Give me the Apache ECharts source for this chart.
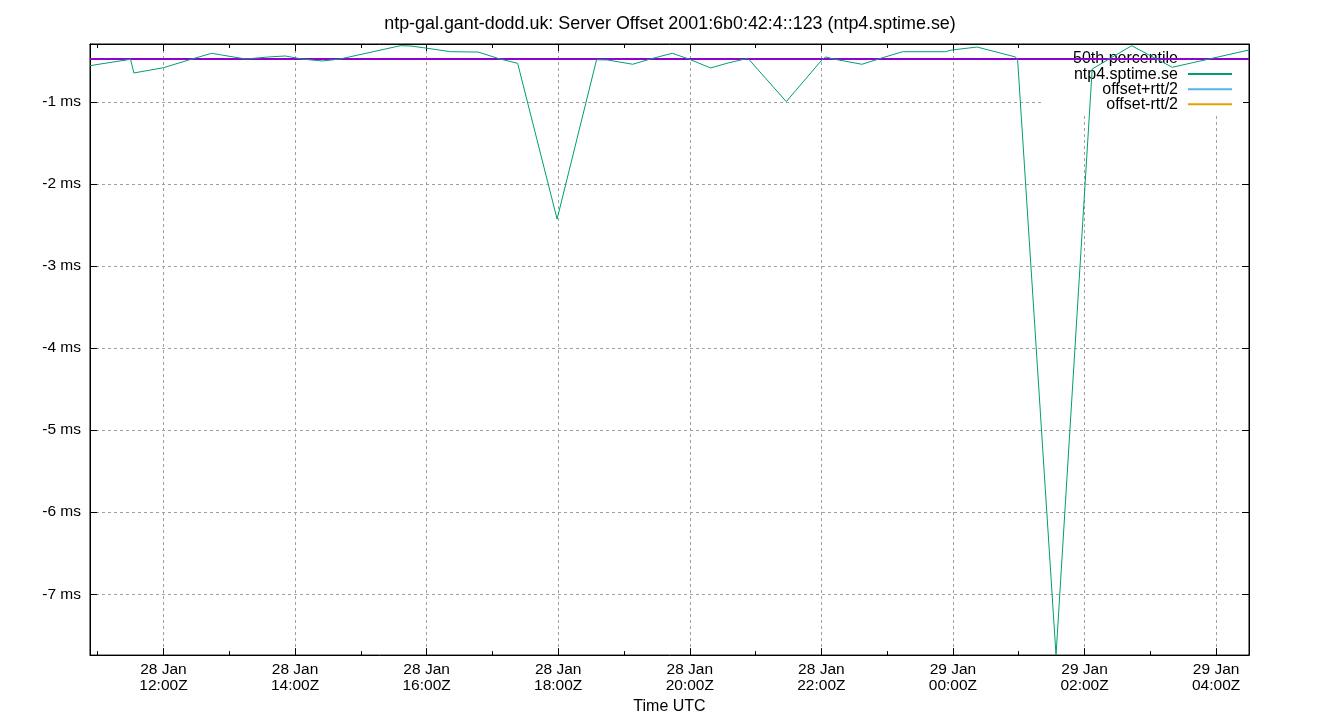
<!DOCTYPE html>
<html>
<head>
<meta charset="utf-8">
<script src="https://cdn.jsdelivr.net/npm/echarts@6/dist/echarts.min.js"></script>
<style>html,body{margin:0;padding:0;background:#fff}#c{width:1340px;height:720px}</style>
</head>
<body>
<div id="c"></div>
<script>
// Sample times (UTC, "DD HH:MM", January) and offsets in ms
const times = [
  '28 10:53','28 11:30','28 11:33','28 12:00','28 12:26','28 12:44','28 12:53','28 13:15',
  '28 13:36','28 13:51','28 14:06','28 14:25','28 14:41','28 15:36','28 15:45','28 15:57',
  '28 16:22','28 16:47','28 17:07','28 17:23','28 17:59','28 18:35','28 18:45','28 19:08',
  '28 19:24','28 19:44','28 19:59','28 20:19','28 20:35','28 20:53','28 21:28','28 22:01',
  '28 22:04','28 22:11','28 22:37','28 22:55','28 23:14','28 23:53','28 23:59','29 00:22',
  '29 00:57','29 00:59','29 01:34','29 02:07','29 02:43','29 03:20','29 04:30'
];
const offsets = [
  -0.558,-0.480,-0.647,-0.583,-0.477,-0.407,-0.428,-0.477,
  -0.452,-0.440,-0.477,-0.501,-0.477,-0.315,-0.318,-0.339,
  -0.388,-0.392,-0.477,-0.529,-2.428,-0.485,-0.489,-0.541,
  -0.477,-0.407,-0.477,-0.586,-0.525,-0.468,-0.996,-0.480,
  -0.452,-0.477,-0.541,-0.465,-0.388,-0.388,-0.367,-0.331,
  -0.452,-0.489,-7.742,-0.598,-0.315,-0.578,-0.367
];
const offsetPlusRtt = [];   // not visible in the reference
const offsetMinusRtt = [];  // not visible in the reference
const p50 = -0.477;
const seriesNames = ['50th percentile','ntp4.sptime.se','offset+rtt/2','offset-rtt/2'];
const titleText = 'ntp-gal.gant-dodd.uk: Server Offset 2001:6b0:42:4::123 (ntp4.sptime.se)';
const yMin = -7.742, yMax = -0.294;

function toH(s){
  const d = +s.slice(0,2), h = +s.slice(3,5), m = +s.slice(6,8);
  return (d-28)*24 + h + m/60;
}
const xs = times.map(toH);
const xMin = xs[0], xMax = xs[xs.length-1];
const offData = xs.map((x,i)=>[x, offsets[i]]);
const pData = [[xMin,p50],[xMax,p50]];
const pad = n => (n<10?'0':'')+n;
const FONT = 'Liberation Sans, Arial, sans-serif';

const chart = echarts.init(document.getElementById('c'), null, {renderer:'canvas'});
const tickX = {show:true, inside:true, length:7, lineStyle:{color:'#000'}};
chart.setOption({
  animation:false,
  backgroundColor:'#fff',
  textStyle:{fontFamily:FONT},
  title:{text:titleText,left:'center',top:10,textStyle:{fontSize:17.9,fontWeight:'normal',color:'#000',fontFamily:FONT}},
  grid:{left:90,right:91,top:44,bottom:64,show:true,borderColor:'#000',borderWidth:1,backgroundColor:'transparent'},
  legend:{
    orient:'vertical', right:97, top:45, align:'right', z:1,
    backgroundColor:'#fff', padding:[6,11,3,32],
    itemWidth:44, itemHeight:2, itemGap:-0.9, icon:'rect',
    textStyle:{fontSize:16,color:'#000',lineHeight:15,fontFamily:FONT, padding:[0,5,0,0]},
    data:seriesNames
  },
  xAxis:[{
    type:'value', min:xMin, max:xMax, splitNumber:9,
    name:'Time UTC', nameLocation:'middle', nameGap:43,
    nameTextStyle:{fontSize:16,color:'#000',fontFamily:FONT},
    axisLine:{show:true,lineStyle:{color:'#000'}},
    axisTick:tickX,
    minorTick:{show:true,splitNumber:2,length:4,lineStyle:{color:'#000'}},
    axisLabel:{show:true,margin:7,fontSize:15.5,color:'#000',lineHeight:16,showMinLabel:false,showMaxLabel:false,
      formatter:v=>{const r=Math.round(v); const day=28+Math.floor(r/24); const h=((r%24)+24)%24; return day+' Jan\n'+pad(h)+':00Z';}},
    splitLine:{show:true,lineStyle:{color:'#a0a0a0',type:[3,3],width:1}}
  },{
    type:'value', min:xMin, max:xMax, splitNumber:9, position:'top',
    axisLine:{show:true,lineStyle:{color:'#000'}},
    axisTick:tickX,
    minorTick:{show:true,splitNumber:2,length:4,lineStyle:{color:'#000'}},
    axisLabel:{show:false}, splitLine:{show:false}
  }],
  yAxis:[{
    type:'value', min:yMin, max:yMax, splitNumber:7,
    axisLine:{show:true,lineStyle:{color:'#000'}},
    axisTick:{show:true,inside:true,length:7,lineStyle:{color:'#000'}},
    axisLabel:{show:true,margin:9,fontSize:15.5,color:'#000',showMinLabel:false,showMaxLabel:false,
      formatter:v=>Math.round(v)+' ms'},
    splitLine:{show:true,lineStyle:{color:'#a0a0a0',type:[3,3],width:1}}
  },{
    type:'value', min:yMin, max:yMax, splitNumber:7, position:'right',
    axisLine:{show:true,lineStyle:{color:'#000'}},
    axisTick:{show:true,inside:true,length:7,lineStyle:{color:'#000'}},
    axisLabel:{show:false}, splitLine:{show:false}
  }],
  series:[
    {name:seriesNames[0],type:'line',data:pData,showSymbol:false,color:'#9400d3',lineStyle:{width:2,color:'#9400d3'},z:3},
    {name:seriesNames[1],type:'line',data:offData,showSymbol:false,color:'#009e73',lineStyle:{width:1,color:'#009e73'},z:4},
    {name:seriesNames[2],type:'line',data:offsetPlusRtt,showSymbol:false,color:'#56b4e9',lineStyle:{width:1,color:'#56b4e9'}},
    {name:seriesNames[3],type:'line',data:offsetMinusRtt,showSymbol:false,color:'#e69f00',lineStyle:{width:1,color:'#e69f00'}}
  ]
});
</script>
</body>
</html>
